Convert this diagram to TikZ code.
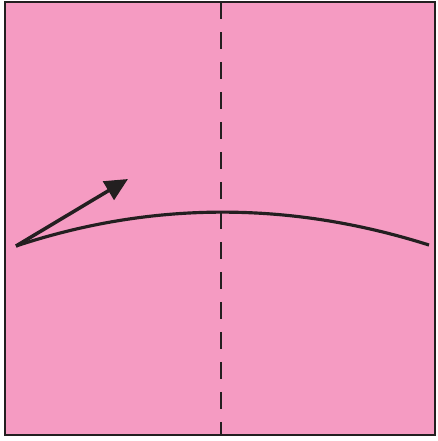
\documentclass[tikz,border=0pt]{standalone}
\usepackage{tikz}
\usepackage{xcolor}
\definecolor{paperPink}{HTML}{F59BC2}
\definecolor{foldInk}{HTML}{231F20}
\usetikzlibrary{arrows.meta}

\begin{document}
\begin{tikzpicture}[x=0.02cm, y=-0.02cm]
  \useasboundingbox (0,0) rectangle (438,441);
  \filldraw[fill=paperPink, draw=foldInk, line width=1.5pt] (5,2) rectangle (435,435);
  \draw[foldInk, line width=1.6pt, dash pattern=on 0.34cm off 0.26cm] (221,2) -- (221,435);
  \coordinate (L) at (16,246);
  \coordinate (R) at (429,245);
  \coordinate (T) at (128,179);
  \draw[foldInk, line width=1.8pt] (L) .. controls (152,201) and (290,201) .. (R);
  \draw[foldInk, line width=2pt, -{Triangle[length=13pt, width=12pt]}] (L) -- (T);
\end{tikzpicture}
\end{document}
